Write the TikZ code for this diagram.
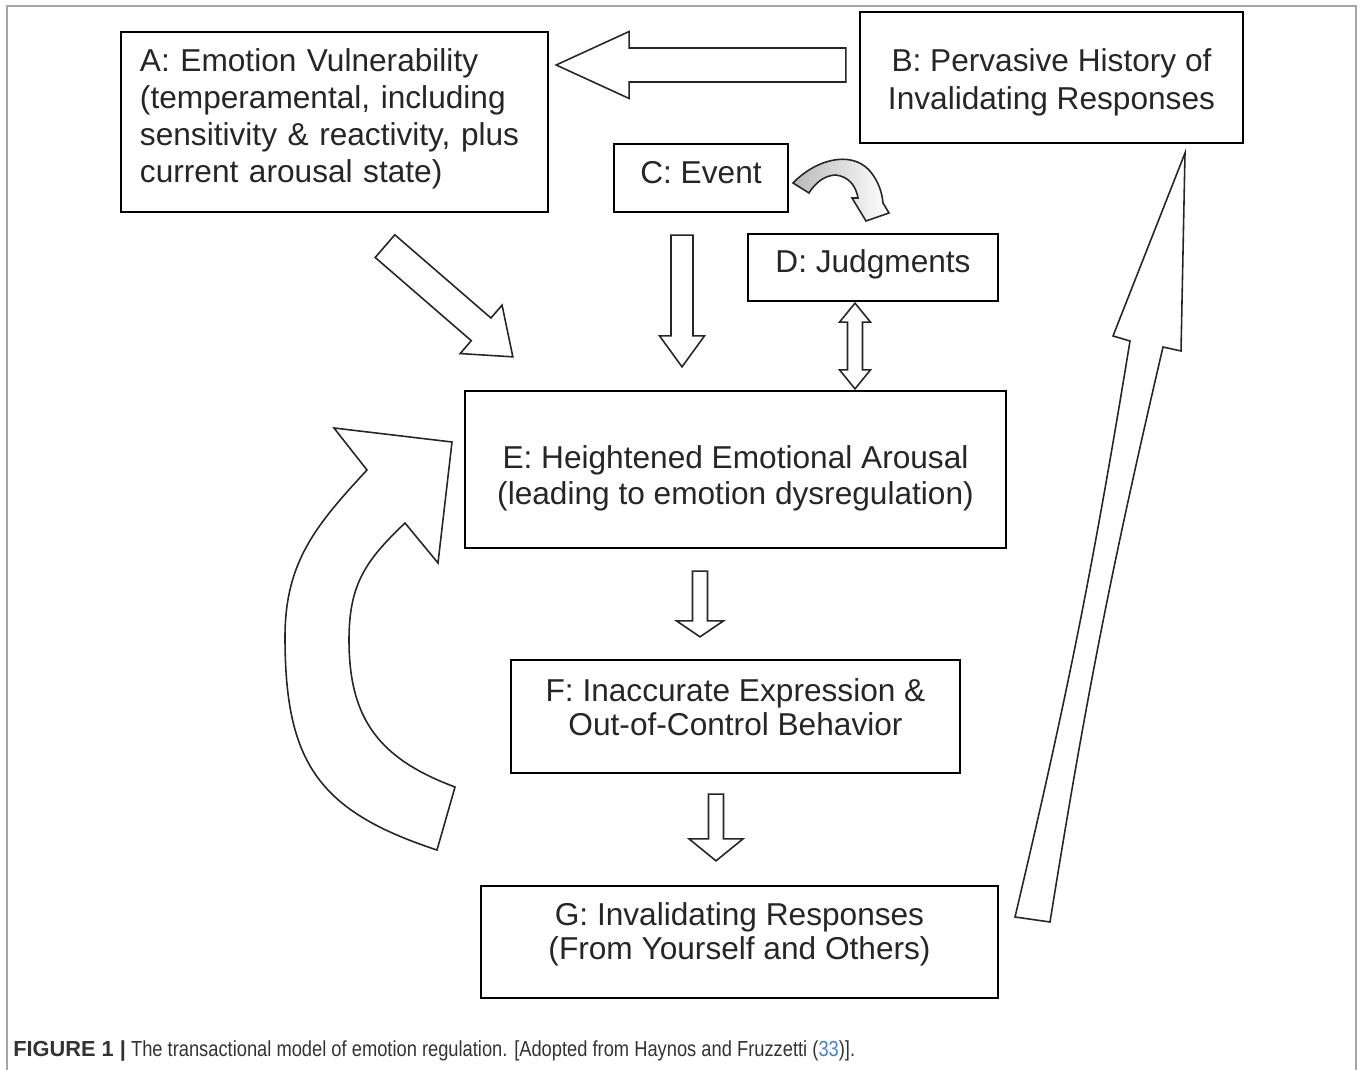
\documentclass[tikz,border=0pt]{standalone}
\usepackage{fontspec}
\setsansfont{Liberation Sans}
\newfontfamily\capfont[FakeStretch=0.84]{Liberation Sans}
\usetikzlibrary{calc, positioning}
\definecolor{linkblue}{RGB}{70,130,195}

% block arrow: tail, tip, shaft half width, head half width, head length
\newcommand{\fatarrow}[5]{%
  \coordinate (hb) at ($(#2)!#5!(#1)$);
  \draw[fat] ($(#1)!#3!90:(#2)$) -- ($(hb)!#3!90:(#2)$) -- ($(hb)!#4!90:(#2)$) -- (#2)
    -- ($(hb)!#4!-90:(#2)$) -- ($(hb)!#3!-90:(#2)$) -- ($(#1)!#3!-90:(#2)$) -- cycle;}
\newcommand{\fatdoublearrow}[5]{%
  \coordinate (ha) at ($(#1)!#5!(#2)$);
  \coordinate (hb) at ($(#2)!#5!(#1)$);
  \draw[fat] (#1) -- ($(ha)!#4!90:(#2)$) -- ($(ha)!#3!90:(#2)$) -- ($(hb)!#3!-90:(#1)$)
    -- ($(hb)!#4!-90:(#1)$) -- (#2) -- ($(hb)!#4!90:(#1)$) -- ($(hb)!#3!90:(#1)$)
    -- ($(ha)!#3!-90:(#2)$) -- ($(ha)!#4!-90:(#2)$) -- cycle;}

\begin{document}
\begin{tikzpicture}[
        x = 0.2mm, y = -0.2mm,
        box/.style = {
            draw,
            rectangle,
            line width = 1.3pt,
            inner sep = 0pt
        },
        txt/.style = {
            inner sep = 0pt,
            align = center
        },
        fat/.style = {
            draw = black!85,
            line width = 0.9pt,
            line join = miter,
            fill = white
        },
        every node/.style={font=\sffamily\fontsize{18}{21}\selectfont, text=black!85}
    ]

        \useasboundingbox (0,0) rectangle (1360,1070);
        \draw[gray!70, line width=1.2pt] (7,1070) |- (1356,6) -- (1356,1070);

        % boxes
        \node[box, minimum width=85.4mm, minimum height=36mm] (A) at (334.5,122) {};
        \node[box, minimum width=76.6mm, minimum height=26.2mm] (B) at (1051.5,77.5) {};
        \node[box, minimum width=34.8mm, minimum height=13.6mm] (C) at (701,178) {};
        \node[box, minimum width=50mm, minimum height=13.4mm] (D) at (873,267.5) {};
        \node[box, minimum width=108.2mm, minimum height=31.4mm] (E) at (735.5,469.5) {};
        \node[box, minimum width=89.8mm, minimum height=22.6mm] (F) at (735.5,716.5) {};
        \node[box, minimum width=103.4mm, minimum height=22.4mm] (G) at (739.5,942) {};

        % box texts
        \node[txt, text width=77.8mm, align=left] (A-text) at ($(A)+(0,-3)$)
            {A: Emotion Vulnerability\\(temperamental, including\\sensitivity \& reactivity, plus\\current arousal state)};
        \node[txt, font=\sffamily\fontsize{18}{21.5}\selectfont] (B-text) at ($(B)+(0,4.5)$)
            {B: Pervasive History of\\Invalidating Responses};
        \node[txt] (C-text) at ($(C)+(0,-5)$) {C: Event};
        \node[txt] (D-text) at ($(D)+(0,-3)$) {D: Judgments};
        \node[txt, font=\sffamily\fontsize{18}{20.4}\selectfont] (E-text) at ($(E)+(0,8.5)$)
            {E: Heightened Emotional Arousal\\(leading to emotion dysregulation)};
        \node[txt, font=\sffamily\fontsize{18}{19.4}\selectfont] (F-text) at ($(F)+(0,-9)$)
            {F: Inaccurate Expression \&\\Out-of-Control Behavior};
        \node[txt, font=\sffamily\fontsize{18}{19.4}\selectfont] (G-text) at ($(G)+(0,-7.5)$)
            {G: Invalidating Responses\\(From Yourself and Others)};

        % straight block arrows
        \coordinate (BAtail) at ($(B.west)+(-13,-12.5)$);
        \coordinate (BAtip) at ($(A.east |- BAtail)+(7,0)$);
        \fatarrow{BAtail}{BAtip}{3.4mm}{6.7mm}{14.6mm}

        \coordinate (AEtail) at ($(A.south)+(50.5,33)$);
        \coordinate (AEtip) at ($(E.north west)+(49,-33)$);
        \fatarrow{AEtail}{AEtip}{3mm}{6.4mm}{8.4mm}

        \coordinate (CEtail) at ($(C.south)+(-19,22)$);
        \coordinate (CEtip) at ($(CEtail |- E.north)+(0,-23)$);
        \fatarrow{CEtail}{CEtip}{2.2mm}{4.5mm}{6.2mm}

        \coordinate (DEtop) at ($(D.south)+(-18,1)$);
        \coordinate (DEbot) at ($(DEtop |- E.north)+(0,-1)$);
        \fatdoublearrow{DEtop}{DEbot}{1.5mm}{3.1mm}{3.8mm}

        \coordinate (EFtail) at ($(E.south)+(-35.5,22)$);
        \coordinate (EFtip) at ($(EFtail |- F.north)+(0,-22)$);
        \fatarrow{EFtail}{EFtip}{1.5mm}{4.7mm}{3.2mm}

        \coordinate (FGtail) at ($(F.south)+(-19.5,20)$);
        \coordinate (FGtip) at ($(FGtail |- G.north)+(0,-24)$);
        \fatarrow{FGtail}{FGtip}{1.5mm}{5.4mm}{4.4mm}

        % curved block arrows
        \shade[left color=gray!55, right color=white]
            (793,183) .. controls (815,160) and (850,150) .. (869,170)
            .. controls (878,180) and (882,192) .. (883,203) -- (889,213) -- (866,221) -- (852,198) -- (858,198)
            .. controls (856,187) and (850,177) .. (836,175)
            .. controls (825,175) and (815,183) .. (809,193) -- cycle;
        \draw[fat, fill=none]
            (793,183) .. controls (815,160) and (850,150) .. (869,170)
            .. controls (878,180) and (882,192) .. (883,203) -- (889,213) -- (866,221) -- (852,198) -- (858,198)
            .. controls (856,187) and (850,177) .. (836,175)
            .. controls (825,175) and (815,183) .. (809,193) -- cycle;

        \draw[fat] (1015,917) -- (1050,922) to[bend left=2] (1163,347) -- (1181,351) -- (1185,153)
            -- (1113,336) -- (1130,341) to[bend left=2] (1015,917) -- cycle;

        \draw[fat] (437,850) .. controls (318,811) and (285,762) .. (285,637)
            .. controls (285,562) and (316,525) .. (367,470)
            -- (334,428) -- (452,442) -- (438,563) -- (405,523)
            .. controls (365,561) and (349,585) .. (349,640)
            .. controls (349,720) and (380,759) .. (455,787) -- cycle;

        % caption
        \node[anchor=base west, font=\capfont\fontsize{12.4}{14}\selectfont, text=black!80, inner sep=0pt] (cap) at (13,1056)
            {{\sffamily\bfseries\fontsize{12.4}{14}\selectfont FIGURE 1 |} The transactional model of emotion regulation. [Adopted from Haynos and Fruzzetti ({\color{linkblue}33})].};

    \end{tikzpicture}
\end{document}
